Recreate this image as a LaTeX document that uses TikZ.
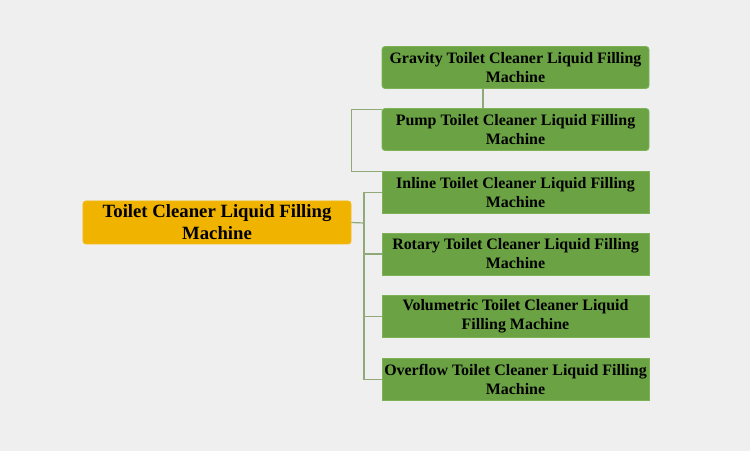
\documentclass[tikz,border=0pt]{standalone}
\usepackage{fontspec}
\setmainfont{Liberation Serif}
\definecolor{bg}{HTML}{EFEFEF}
\definecolor{gbox}{HTML}{6BA244}
\definecolor{gedge}{HTML}{7DB356}
\definecolor{obox}{HTML}{F0B400}
\definecolor{conn}{HTML}{8FAA78}
\begin{document}
\begin{tikzpicture}[x=1bp,y=-1bp,
  gboxr/.style={draw=gedge,fill=gbox,rounded corners=3bp,line width=0.8bp,minimum width=267bp,minimum height=42bp,inner sep=0pt,align=center,font=\bfseries\fontsize{16}{19}\selectfont},
  gboxs/.style={gboxr,rounded corners=0pt},
  mainbox/.style={draw=obox!90!white,fill=obox,rounded corners=3bp,line width=0.8bp,minimum width=268bp,minimum height=43bp,inner sep=0pt,align=center,font=\bfseries\fontsize{18.8}{22}\selectfont},
  cline/.style={draw=conn,line width=1.2bp}]
\fill[bg] (0,0) rectangle (750,451);
\useasboundingbox (0,0) rectangle (750,451);
\node[mainbox] (main) at (217,222.5) {Toilet Cleaner Liquid Filling\\Machine};
\node[gboxr] (grav) at (515.5,67.5) {Gravity Toilet Cleaner Liquid Filling\\Machine};
\node[gboxr] (pump) at (515.5,129.5) {Pump Toilet Cleaner Liquid Filling\\Machine};
\node[gboxs] (inl) at (515.5,192.5) {Inline Toilet Cleaner Liquid Filling\\Machine};
\node[gboxs] (rot) at (515.5,254) {Rotary Toilet Cleaner Liquid Filling\\Machine};
\node[gboxs] (vol) at (515.5,316.5) {Volumetric Toilet Cleaner Liquid\\Filling Machine};
\node[gboxs] (ovf) at (515.5,379.5) {Overflow Toilet Cleaner Liquid Filling\\Machine};
\coordinate (spine) at (364,223);
\draw[cline] (grav.south -| 483,0) -- (pump.north -| 483,0);
\draw[cline] (pump.north west) ++(0,1.5) -- ++(-30,0) |- ([yshift=-0.5bp]inl.north west);
\draw[cline] (main.east) -- (spine);
\draw[cline] (spine |- inl.west) -- (spine |- ovf.west);
\foreach \n in {inl,rot,vol,ovf}{\draw[cline] (spine |- \n.west) -- (\n.west);}
\end{tikzpicture}
\end{document}
